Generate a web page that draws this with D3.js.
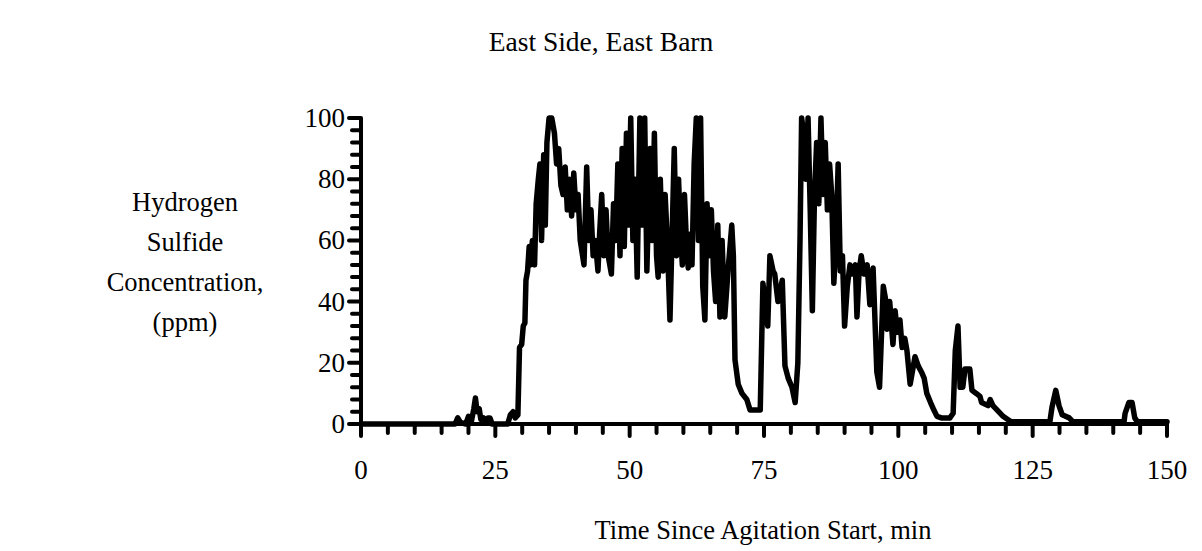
<!DOCTYPE html>
<html><head><meta charset="utf-8">
<script src="https://cdn.jsdelivr.net/npm/d3@7"></script>
<style>body{margin:0;background:#fff}svg{display:block}text{font-family:"Liberation Serif","Times New Roman",serif;fill:#000}</style>
</head><body>
<script>
const title = "East Side, East Barn";
const yLabelLines = ["Hydrogen","Sulfide","Concentration,","(ppm)"];
const xLabel = "Time Since Agitation Start, min";
const xTickLabels = [0,25,50,75,100,125,150];
const yTickLabels = [0,20,40,60,80,100];
const timeMin = [0,17.5,18,18.5,19.5,20,20.5,21,21.3,21.6,22,22.3,22.8,23.2,23.6,24,24.4,27.3,27.8,28.3,28.7,29.2,29.5,29.9,30.2,30.5,30.7,31,31.3,31.6,31.9,32.3,32.6,33,33.3,33.6,34,34.3,34.6,35,35.5,36,36.4,36.8,37.2,37.6,38,38.4,38.8,39.2,39.6,40,40.4,40.8,41.5,42,42.4,42.8,43.2,43.6,44.1,44.4,44.8,45.2,45.6,46,46.6,47,47.4,47.8,48.2,48.6,49,49.4,49.8,50.2,50.6,51,51.4,51.9,52.4,52.8,53.2,53.8,54.2,54.6,55,55.3,55.7,56.2,56.6,57,57.5,57.9,58.3,58.7,59.1,59.4,59.8,60.2,60.6,60.9,61.2,61.6,62,62.4,62.8,63.2,63.6,64,64.4,64.8,65.2,65.6,66,66.4,66.8,67.2,67.7,68.3,69,69.3,69.6,70.2,70.9,71.8,72.4,74.3,74.8,75.2,75.7,76.1,76.7,77,77.6,78.4,78.9,79.5,80.2,80.8,81.3,81.7,82,82.4,82.8,83.2,83.6,84,84.4,84.8,85.2,85.6,86,86.4,86.8,87.2,87.6,88,88.4,88.8,89.2,89.6,90,90.5,91,91.5,92,92.3,92.7,93.1,93.6,94.2,94.7,95.3,96,96.5,97.2,97.6,97.9,98.4,99,99.4,99.8,100.3,100.7,101.2,101.6,102.2,103.1,103.7,104.3,104.8,105.3,106,106.5,107.2,108,109,109.6,110.2,110.6,111.1,111.5,112,112.4,113.3,113.7,114.5,115.2,115.5,116.7,117.1,117.6,118.4,119.5,120.5,121,128.2,128.6,129.3,129.9,130.5,131.8,132.5,142,142.2,142.9,143.5,144,144.5,150];
const h2sPpm = [0,0,2,0.5,0,2.5,0.5,5,8.5,4,5,1.5,2,0.5,2,2,0,0,3,4,2,3,25,26,32,33,47,50,58,52,60,52,72,80,85,60,88,65,92,100,100,95,85,90,78,75,84,70,80,68,82,70,75,60,52,84,60,70,55,60,50,62,75,55,70,55,49,72,60,85,55,90,58,95,65,100,60,80,48,100,65,100,50,90,60,95,55,48,80,50,75,60,34,62,90,55,80,65,52,75,58,51,62,52,85,100,60,100,45,34,72,55,70,50,40,65,35,60,35,50,65,55,21,13,10,8,4.6,4.6,46,40,32,55,50,49,40,47,19,15,12,7,20,60,100,95,80,100,70,37,75,92,72,100,75,92,70,85,75,46,60,85,50,55,32,45,52,49,52,35,50,55,49,52,39,51,17,12,45,41,31,40,26,37,30,34,25,28,24,13,22,19,17,15,10,7,5,2.5,2,2,2,3.5,24,32,12,12,18,18,11,10,9,7,6,8,6,4.5,2.5,1.3,0.7,0.7,5.5,11,6,3,2,0.7,0.7,3.5,7,7,2,0.7,0.7];

const W = 1202, H = 551;
const svg = d3.select("body").append("svg").attr("width",W).attr("height",H);
const x = d3.scaleLinear().domain([0,150]).range([361,1167]);
const y = d3.scaleLinear().domain([0,100]).range([424,118]);

svg.append("text").attr("x",601).attr("y",51).attr("text-anchor","middle").attr("font-size",27.5).text(title);

const yl = svg.append("text").attr("text-anchor","middle").attr("font-size",26.5);
yLabelLines.forEach((t,i)=>yl.append("tspan").attr("x",185).attr("y",211+i*40).text(t));

svg.append("text").attr("x",763).attr("y",539).attr("text-anchor","middle").attr("font-size",26.5).text(xLabel);

// y ticks
const yMinor = d3.range(0,101,4).filter(v=>v%20!==0);
const gy = svg.append("g");
gy.selectAll("line.mi").data(yMinor).join("line").attr("x1",352).attr("x2",361).attr("y1",d=>y(d)).attr("y2",d=>y(d))
  .attr("stroke","#000").attr("stroke-width",4).attr("stroke-linecap","round");
gy.selectAll("line.ma").data(yTickLabels).join("line").attr("x1",349).attr("x2",361).attr("y1",d=>y(d)).attr("y2",d=>y(d))
  .attr("stroke","#000").attr("stroke-width",4).attr("stroke-linecap","round");
gy.selectAll("text").data(yTickLabels).join("text").attr("x",345).attr("y",d=>y(d)+9).attr("text-anchor","end").attr("font-size",27).text(d=>d);

// x ticks
const xMinor = d3.range(0,151,5).filter(v=>v%25!==0);
const gx = svg.append("g");
gx.selectAll("line.mi").data(xMinor).join("line").attr("x1",d=>x(d)).attr("x2",d=>x(d)).attr("y1",424).attr("y2",433)
  .attr("stroke","#000").attr("stroke-width",4).attr("stroke-linecap","round");
gx.selectAll("line.ma").data(xTickLabels).join("line").attr("x1",d=>x(d)).attr("x2",d=>x(d)).attr("y1",424).attr("y2",436)
  .attr("stroke","#000").attr("stroke-width",4).attr("stroke-linecap","round");
gx.selectAll("text").data(xTickLabels).join("text").attr("x",d=>x(d)).attr("y",479).attr("text-anchor","middle").attr("font-size",27).text(d=>d);

// axes lines
svg.append("line").attr("x1",361).attr("x2",361).attr("y1",y(100)).attr("y2",y(0)).attr("stroke","#000").attr("stroke-width",4);
svg.append("line").attr("x1",361).attr("x2",1167).attr("y1",y(0)).attr("y2",y(0)).attr("stroke","#000").attr("stroke-width",4);

// data line
const data = timeMin.map((t,i)=>[t,h2sPpm[i]]);
svg.append("path").datum(data)
  .attr("d", d3.line().x(d=>x(d[0])).y(d=>y(d[1])))
  .attr("fill","none").attr("stroke","#000").attr("stroke-width",5.5).attr("stroke-linejoin","round").attr("stroke-linecap","round");
</script>
</body></html>
